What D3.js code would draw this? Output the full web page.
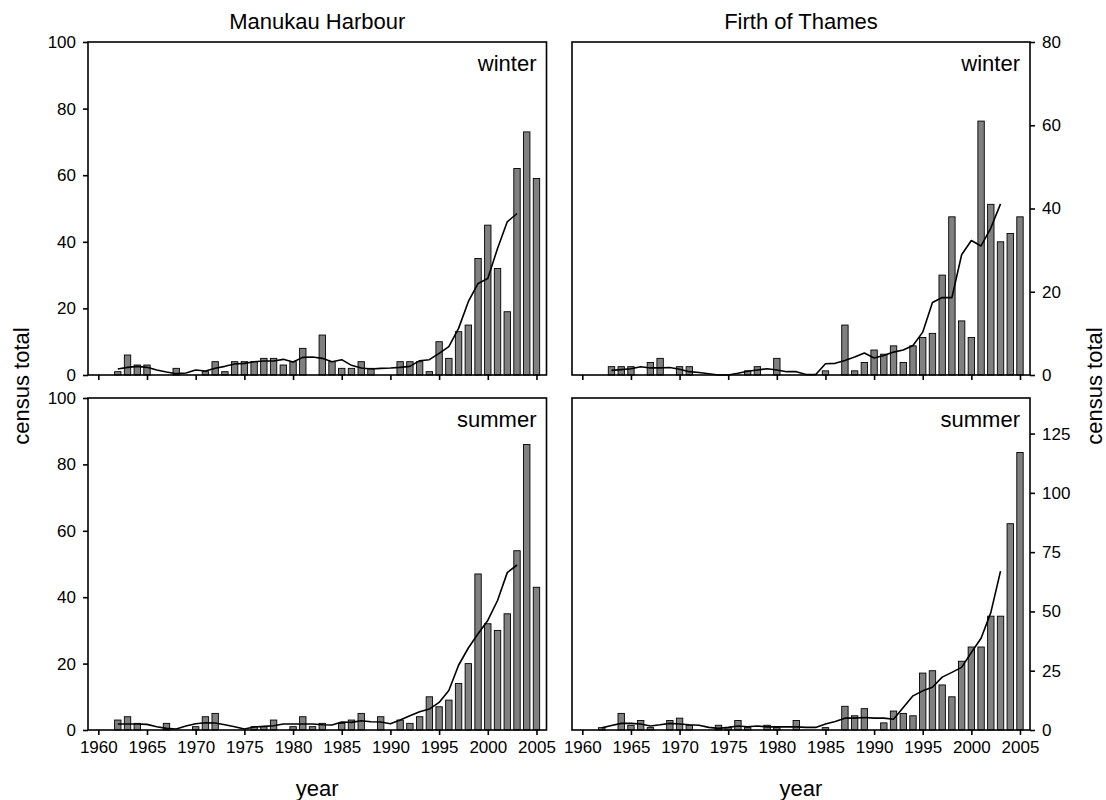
<!DOCTYPE html>
<html>
<head>
<meta charset="utf-8">
<script src="https://cdn.jsdelivr.net/npm/d3@7"></script>
<style>
  html, body { margin: 0; padding: 0; background: #fff; }
  svg { display: block; font-family: "Liberation Sans", Arial, sans-serif; }
</style>
</head>
<body>
<svg id="chart" width="1106" height="800"></svg>
<script>
// census counts per year (bars) and smoothed trend (line)
const manukauWinter = [
  [1962,1],[1963,6],[1964,3],[1965,3],[1968,2],[1971,1],[1972,4],[1973,1],[1974,4],[1975,4],
  [1976,4],[1977,5],[1978,5],[1979,3],[1980,4],[1981,8],[1983,12],[1984,4],[1985,2],[1986,2],
  [1987,4],[1988,2],[1991,4],[1992,4],[1993,4],[1994,1],[1995,10],[1996,5],[1997,13],[1998,15],
  [1999,35],[2000,45],[2001,32],[2002,19],[2003,62],[2004,73],[2005,59]
];
const manukauWinterTrend = [
  [1962,1.8],[1963,2.3],[1964,2.6],[1965,2.3],[1966,1.5],[1967,0.9],[1968,0.4],[1969,0.6],[1970,1.5],
  [1971,1.2],[1972,2.0],[1973,2.6],[1974,3.3],[1975,3.5],[1976,4.0],[1977,4.2],[1978,4.2],[1979,4.7],
  [1980,3.9],[1981,5.3],[1982,5.4],[1983,5.0],[1984,4.0],[1985,4.6],[1986,2.9],[1987,2.1],[1988,1.8],
  [1989,2.0],[1990,2.1],[1991,2.3],[1992,2.6],[1993,4.3],[1994,4.6],[1995,6.5],[1996,8.5],[1997,14],
  [1998,22],[1999,27.5],[2000,29],[2001,38],[2002,46],[2003,48.5]
];
const thamesWinter = [
  [1963,2],[1964,2],[1965,2],[1967,3],[1968,4],[1970,2],[1971,2],[1977,1],[1978,2],[1980,4],
  [1985,1],[1987,12],[1988,1],[1989,3],[1990,6],[1991,5],[1992,7],[1993,3],[1994,7],[1995,9],
  [1996,10],[1997,24],[1998,38],[1999,13],[2000,9],[2001,61],[2002,41],[2003,32],[2004,34],[2005,38]
];
const thamesWinterTrend = [
  [1963,1.1],[1964,1.3],[1965,1.5],[1966,2.0],[1967,1.7],[1968,1.7],[1969,1.8],[1970,1.4],[1971,0.8],
  [1972,0.6],[1973,0.3],[1974,0],[1975,0],[1976,0.4],[1977,0.9],[1978,1.2],[1979,1.5],[1980,1.2],
  [1981,0.8],[1982,0.8],[1983,0.1],[1984,0.1],[1985,2.7],[1986,2.8],[1987,3.5],[1988,4.3],[1989,5.3],
  [1990,4.1],[1991,4.7],[1992,5.5],[1993,6.0],[1994,7.1],[1995,10.3],[1996,17.4],[1997,18.6],
  [1998,18.6],[1999,28.9],[2000,32.3],[2001,31],[2002,35.3],[2003,41.1]
];
const manukauSummer = [
  [1962,3],[1963,4],[1964,2],[1967,2],[1970,1],[1971,4],[1972,5],[1976,1],[1977,1],[1978,3],
  [1980,1],[1981,4],[1982,1],[1983,2],[1985,2],[1986,3],[1987,5],[1989,4],[1991,3],[1992,2],
  [1993,4],[1994,10],[1995,7],[1996,9],[1997,14],[1998,20],[1999,47],[2000,32],[2001,30],[2002,35],
  [2003,54],[2004,86],[2005,43]
];
const manukauSummerTrend = [
  [1962,1.8],[1963,1.8],[1964,1.8],[1965,1.7],[1966,1.0],[1967,0.5],[1968,0.3],[1969,1.2],[1970,1.9],
  [1971,2.2],[1972,2.1],[1973,1.6],[1974,1.0],[1975,0.3],[1976,0.9],[1977,1.1],[1978,1.3],[1979,1.8],
  [1980,1.8],[1981,1.8],[1982,1.8],[1983,1.6],[1984,1.5],[1985,2.4],[1986,2.3],[1987,2.8],[1988,2.5],
  [1989,2.4],[1990,1.9],[1991,3.0],[1992,4.3],[1993,5.5],[1994,6.3],[1995,8.3],[1996,11.9],[1997,19.5],
  [1998,24.7],[1999,29],[2000,33],[2001,39],[2002,47.4],[2003,49.7]
];
const thamesSummer = [
  [1962,1],[1964,7],[1965,2],[1966,4],[1967,1],[1969,4],[1970,5],[1971,2],[1974,2],[1975,1],
  [1976,4],[1977,1],[1979,2],[1980,1],[1982,4],[1985,1],[1987,10],[1988,6],[1989,9],[1991,3],
  [1992,8],[1993,7],[1994,6],[1995,24],[1996,25],[1997,19],[1998,14],[1999,29],[2000,35],[2001,35],
  [2002,48],[2003,48],[2004,87],[2005,117]
];
const thamesSummerTrend = [
  [1962,0.9],[1963,1.9],[1964,2.8],[1965,2.8],[1966,2.5],[1967,1.7],[1968,2.2],[1969,2.8],[1970,2.5],
  [1971,2.2],[1972,2.0],[1973,1.1],[1974,0.7],[1975,1.1],[1976,1.7],[1977,1.4],[1978,1.7],[1979,1.3],
  [1980,1.3],[1981,1.4],[1982,1.3],[1983,1.1],[1984,1.1],[1985,2.5],[1986,3.6],[1987,5],[1988,5],
  [1989,5.3],[1990,5],[1991,5],[1992,4.5],[1993,9.5],[1994,14.4],[1995,16.5],[1996,18],[1997,22.3],
  [1998,24.3],[1999,26.4],[2000,32.7],[2001,38.7],[2002,49.5],[2003,67]
];

const yearTicks = [1960, 1965, 1970, 1975, 1980, 1985, 1990, 1995, 2000, 2005];
const leftTicks = [0, 20, 40, 60, 80, 100];
const thamesWinterTicks = [0, 20, 40, 60, 80];
const thamesSummerTicks = [0, 25, 50, 75, 100, 125];
const siteNames = ['Manukau Harbour', 'Firth of Thames'];
const seasonNames = ['winter', 'summer'];

const svg = d3.select('#chart');
const FONT_TICK = 17;
const FONT_BIG = 22;

const cols = [{ x0: 88, x1: 546.5 }, { x0: 572, x1: 1030 }];
const rows = [{ y0: 42, y1: 375 }, { y0: 398, y1: 730 }];

const panels = [
  { col: 0, row: 0, bars: manukauWinter, trend: manukauWinterTrend, yMax: 100, ticks: leftTicks, side: 'left' },
  { col: 1, row: 0, bars: thamesWinter, trend: thamesWinterTrend, yMax: 80, ticks: thamesWinterTicks, side: 'right' },
  { col: 0, row: 1, bars: manukauSummer, trend: manukauSummerTrend, yMax: 100, ticks: leftTicks, side: 'left' },
  { col: 1, row: 1, bars: thamesSummer, trend: thamesSummerTrend, yMax: 140, ticks: thamesSummerTicks, side: 'right' },
];

panels.forEach(p => {
  const c = cols[p.col], r = rows[p.row];
  const x = d3.scaleLinear().domain([1958.94, 2006.03]).range([c.x0, c.x1]);
  const y = d3.scaleLinear().domain([0, p.yMax]).range([r.y1, r.y0]);
  const g = svg.append('g');
  const barW = 6.4;

  g.append('g').selectAll('rect').data(p.bars).enter().append('rect')
    .attr('x', d => x(d[0]) - barW / 2)
    .attr('y', d => y(d[1]))
    .attr('width', barW)
    .attr('height', d => y(0) - y(d[1]))
    .attr('fill', '#808080')
    .attr('stroke', '#000')
    .attr('stroke-width', 0.9);

  g.append('path').datum(p.trend)
    .attr('fill', 'none')
    .attr('stroke', '#000')
    .attr('stroke-width', 1.6)
    .attr('stroke-linejoin', 'round')
    .attr('d', d3.line().x(d => x(d[0])).y(d => y(d[1])));

  // frame
  g.append('rect')
    .attr('x', c.x0).attr('y', r.y0)
    .attr('width', c.x1 - c.x0).attr('height', r.y1 - r.y0)
    .attr('fill', 'none').attr('stroke', '#000').attr('stroke-width', 1.6);

  // x ticks (labels on bottom row only)
  const xAxis = d3.axisBottom(x).tickValues(yearTicks).tickFormat(d3.format('d'))
    .tickSizeInner(5).tickSizeOuter(0).tickPadding(6);
  const xg = g.append('g').attr('transform', `translate(0,${r.y1})`).call(xAxis);
  xg.select('.domain').remove();
  xg.selectAll('line').attr('stroke-width', 1.6);
  xg.selectAll('text').attr('font-size', FONT_TICK).attr('font-family', null).attr('fill', '#000');
  if (p.row === 0) xg.selectAll('text').remove();

  // y axis
  const yAxis = (p.side === 'left' ? d3.axisLeft(y) : d3.axisRight(y))
    .tickValues(p.ticks).tickSizeInner(5).tickSizeOuter(0).tickPadding(7);
  const yg = g.append('g').attr('transform', `translate(${p.side === 'left' ? c.x0 : c.x1},0)`).call(yAxis);
  yg.select('.domain').remove();
  yg.selectAll('line').attr('stroke-width', 1.6);
  yg.selectAll('text').attr('font-size', FONT_TICK).attr('font-family', null).attr('fill', '#000');

  // season label
  g.append('text')
    .attr('x', c.x1 - 10).attr('y', r.y0 + 29)
    .attr('text-anchor', 'end').attr('font-size', FONT_BIG)
    .text(seasonNames[p.row]);
});

// column titles and x labels
cols.forEach((c, i) => {
  svg.append('text')
    .attr('x', (c.x0 + c.x1) / 2).attr('y', 29)
    .attr('text-anchor', 'middle').attr('font-size', FONT_BIG)
    .text(siteNames[i]);
  svg.append('text')
    .attr('x', (c.x0 + c.x1) / 2).attr('y', 796)
    .attr('text-anchor', 'middle').attr('font-size', FONT_BIG)
    .text('year');
});

// y axis titles
svg.append('text')
  .attr('transform', 'translate(29,386) rotate(-90)')
  .attr('text-anchor', 'middle').attr('font-size', FONT_BIG)
  .text('census total');
svg.append('text')
  .attr('transform', 'translate(1102,386) rotate(-90)')
  .attr('text-anchor', 'middle').attr('font-size', FONT_BIG)
  .text('census total');
</script>
</body>
</html>
